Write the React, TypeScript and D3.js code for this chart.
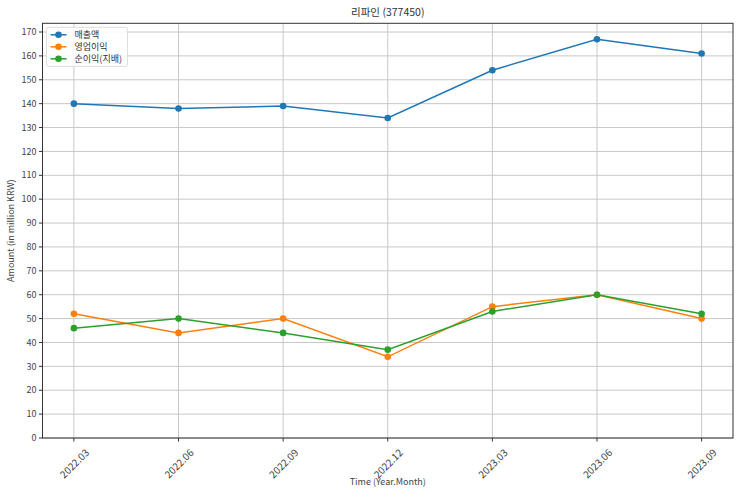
import React from 'react';
import * as d3 from 'd3';

const periods = ['2022.03', '2022.06', '2022.09', '2022.12', '2023.03', '2023.06', '2023.09'];
const revenue = [140, 138, 139, 134, 154, 167, 161];
const operatingProfit = [52, 44, 50, 34, 55, 60, 50];
const netProfit = [46, 50, 44, 37, 53, 60, 52];
const yTicks = d3.range(0, 171, 10);

const seriesList = [
  { name: '매출액', values: revenue, color: '#1f77b4' },
  { name: '영업이익', values: operatingProfit, color: '#ff7f0e' },
  { name: '순이익(지배)', values: netProfit, color: '#2ca02c' },
];

const W = 743;
const H = 495;
const margin = { top: 23.3, right: 10, bottom: 57, left: 42.5 };
const font = '"Noto Sans CJK KR", "Noto Sans", sans-serif';

export default function App() {
  const innerW = W - margin.left - margin.right;
  const innerH = H - margin.top - margin.bottom;

  const x = d3.scaleLinear().domain([-0.3, periods.length - 1 + 0.3]).range([0, innerW]);
  const y = d3.scaleLinear().domain([0, 173.65]).range([innerH, 0]);

  const line = d3.line<number>()
    .x((_, i) => x(i))
    .y(d => y(d));

  return (
    <div style={{ position: 'fixed', left: 0, top: 0, background: '#fff' }}>
      <svg width={W} height={H} style={{ fontFamily: font, display: 'block' }}>
        <rect width={W} height={H} fill="#fff" />
        <text x={margin.left + innerW / 2} y={16} textAnchor="middle" fontSize={10.5} fill="#333">
          리파인 (377450)
        </text>
        <g transform={`translate(${margin.left},${margin.top})`}>
          {/* grid */}
          {yTicks.map(t => (
            <line key={'gy' + t} x1={0} x2={innerW} y1={y(t)} y2={y(t)} stroke="#c8c8c8" strokeWidth={1} />
          ))}
          {periods.map((p, i) => (
            <line key={'gx' + p} x1={x(i)} x2={x(i)} y1={0} y2={innerH} stroke="#c8c8c8" strokeWidth={1} />
          ))}

          {/* series */}
          {seriesList.map(s => (
            <g key={s.name}>
              <path d={line(s.values) || ''} fill="none" stroke={s.color} strokeWidth={1.5} />
              {s.values.map((v, i) => (
                <circle key={i} cx={x(i)} cy={y(v)} r={3.3} fill={s.color} />
              ))}
            </g>
          ))}

          {/* spines */}
          <rect x={0} y={0} width={innerW} height={innerH} fill="none" stroke="#333" strokeWidth={1} />

          {/* y axis */}
          {yTicks.map(t => (
            <g key={'ty' + t} transform={`translate(0,${y(t)})`}>
              <line x1={-3.5} x2={0} stroke="#333" />
              <text x={-6} dy="0.35em" textAnchor="end" fontSize={9} fill="#444">{t}</text>
            </g>
          ))}

          {/* x axis */}
          {periods.map((p, i) => (
            <g key={'tx' + p} transform={`translate(${x(i)},${innerH})`}>
              <line y1={0} y2={3.5} stroke="#333" />
              <text
                transform="translate(0,25) rotate(-45)"
                textAnchor="middle"
                dominantBaseline="central"
                fontSize={10}
                fill="#444"
              >
                {p}
              </text>
            </g>
          ))}

          {/* legend */}
          <g transform="translate(4,4)">
            <rect width={81} height={39} rx={2} fill="#fff" fillOpacity={0.85} stroke="#ddd" />
            {seriesList.map((s, i) => (
              <g key={'lg' + s.name} transform={`translate(0,${7.5 + i * 12})`}>
                <line x1={4} x2={20} stroke={s.color} strokeWidth={1.5} />
                <circle cx={12} cy={0} r={3.3} fill={s.color} />
                <text x={28} dy="0.35em" fontSize={9} fill="#333">{s.name}</text>
              </g>
            ))}
          </g>
        </g>

        <text
          transform={`translate(14,${margin.top + innerH / 2}) rotate(-90)`}
          textAnchor="middle"
          fontSize={9}
          fill="#444"
        >
          Amount (in million KRW)
        </text>
        <text x={margin.left + innerW / 2} y={485} textAnchor="middle" fontSize={9} fill="#444">
          Time (Year.Month)
        </text>
      </svg>
    </div>
  );
}
